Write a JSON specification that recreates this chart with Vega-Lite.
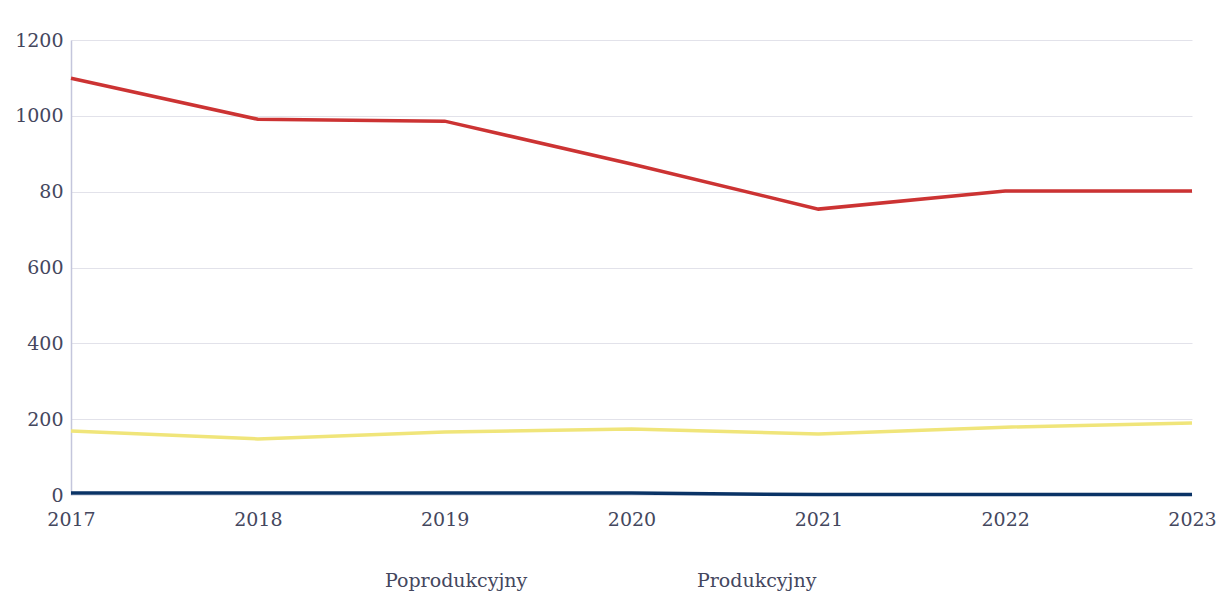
{
  "$schema": "https://vega.github.io/schema/vega-lite/v6.json",
  "width": 1121,
  "height": 455,
  "autosize": {"type": "none"},
  "padding": {"left": 71, "top": 40, "right": 32, "bottom": 100},
  "background": "white",
  "config": {
    "view": {"stroke": null},
    "font": "DejaVu Serif"
  },
  "data": {
    "values": [
      {"rok": "2017", "grupa": "Produkcyjny", "wartosc": 1099},
      {"rok": "2018", "grupa": "Produkcyjny", "wartosc": 991},
      {"rok": "2019", "grupa": "Produkcyjny", "wartosc": 986},
      {"rok": "2020", "grupa": "Produkcyjny", "wartosc": 873},
      {"rok": "2021", "grupa": "Produkcyjny", "wartosc": 754},
      {"rok": "2022", "grupa": "Produkcyjny", "wartosc": 802},
      {"rok": "2023", "grupa": "Produkcyjny", "wartosc": 802},
      {"rok": "2017", "grupa": "Poprodukcyjny", "wartosc": 169},
      {"rok": "2018", "grupa": "Poprodukcyjny", "wartosc": 148},
      {"rok": "2019", "grupa": "Poprodukcyjny", "wartosc": 166},
      {"rok": "2020", "grupa": "Poprodukcyjny", "wartosc": 174},
      {"rok": "2021", "grupa": "Poprodukcyjny", "wartosc": 161},
      {"rok": "2022", "grupa": "Poprodukcyjny", "wartosc": 179},
      {"rok": "2023", "grupa": "Poprodukcyjny", "wartosc": 190},
      {"rok": "2017", "grupa": "Przedprodukcyjny", "wartosc": 5},
      {"rok": "2018", "grupa": "Przedprodukcyjny", "wartosc": 5},
      {"rok": "2019", "grupa": "Przedprodukcyjny", "wartosc": 5},
      {"rok": "2020", "grupa": "Przedprodukcyjny", "wartosc": 5},
      {"rok": "2021", "grupa": "Przedprodukcyjny", "wartosc": 1},
      {"rok": "2022", "grupa": "Przedprodukcyjny", "wartosc": 1},
      {"rok": "2023", "grupa": "Przedprodukcyjny", "wartosc": 1}
    ]
  },
  "mark": {"type": "line", "strokeWidth": 3.5, "clip": false},
  "encoding": {
    "x": {
      "field": "rok",
      "type": "ordinal",
      "scale": {"type": "point", "padding": 0},
      "axis": {
        "title": null,
        "labelAngle": 0,
        "domain": false,
        "ticks": false,
        "grid": false,
        "labelFontSize": 19,
        "labelColor": "#44475e",
        "labelPadding": 15,
        "labelFont": "DejaVu Serif"
      }
    },
    "y": {
      "field": "wartosc",
      "type": "quantitative",
      "scale": {"domain": [0, 1200], "nice": false},
      "axis": {
        "title": null,
        "values": [0, 200, 400, 600, 800, 1000, 1200],
        "format": "d",
        "labelExpr": "datum.value == 800 ? '80' : datum.label",
        "domain": true,
        "domainColor": "#c4c6dc",
        "domainWidth": 1.5,
        "ticks": false,
        "gridColor": "#e2e2ea",
        "gridWidth": 1,
        "labelFontSize": 19,
        "labelColor": "#44475e",
        "labelPadding": 8,
        "labelFont": "DejaVu Serif"
      }
    },
    "color": {
      "field": "grupa",
      "type": "nominal",
      "scale": {
        "domain": ["Poprodukcyjny", "Produkcyjny", "Przedprodukcyjny"],
        "range": ["#f0e57a", "#cc3333", "#0a3366"]
      },
      "legend": {
        "title": null,
        "orient": "none",
        "legendX": 291,
        "legendY": 531,
        "direction": "horizontal",
        "values": ["Poprodukcyjny", "Produkcyjny"],
        "symbolOpacity": 0,
        "symbolSize": 10,
        "symbolStrokeWidth": 0,
        "labelFontSize": 19,
        "labelColor": "#44475e",
        "labelFont": "DejaVu Serif",
        "columnPadding": 146
      }
    }
  }
}
